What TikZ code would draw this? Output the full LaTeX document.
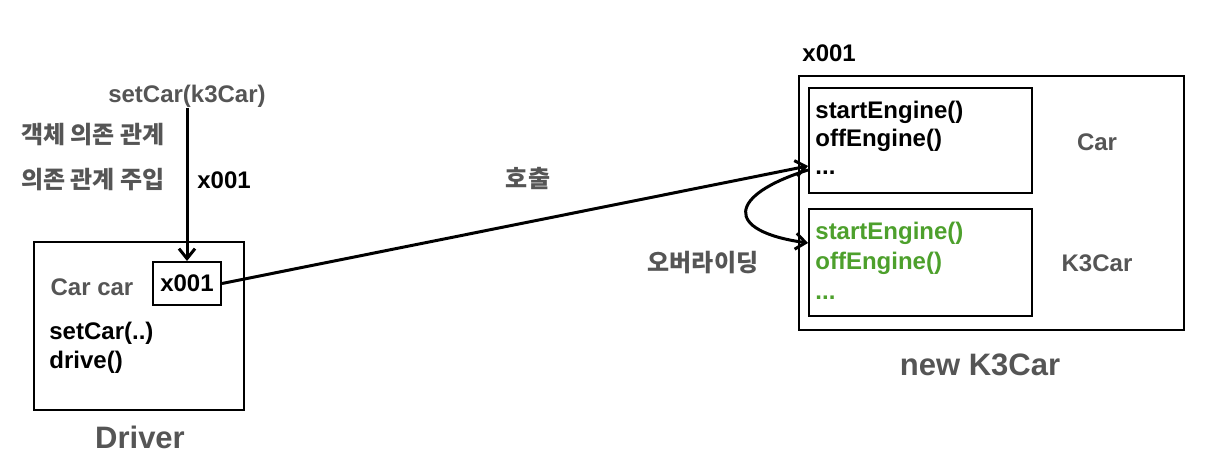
\documentclass[tikz,border=0pt]{standalone}
\usepackage{fontspec}
\setmainfont{Liberation Sans}
\newfontfamily\kofont{Noto Sans CJK KR}
\usetikzlibrary{arrows.meta, positioning}
\usepackage{xcolor}
\definecolor{txtgray}{HTML}{555555}
\definecolor{ovgreen}{HTML}{4DA02C}

\begin{document}
\begin{tikzpicture}[x=0.5pt, y=-0.5pt,
        box/.style={draw, line width=1pt, inner sep=0pt},
        code/.style={font=\bfseries\fontsize{12pt}{14pt}\selectfont, inner sep=0pt},
        lbl/.style={code, text=txtgray},
        title/.style={font=\bfseries\fontsize{15.5pt}{18pt}\selectfont, text=txtgray, inner sep=0pt},
        kor/.style={font=\kofont\bfseries\fontsize{12pt}{14pt}\selectfont, text=txtgray, inner sep=0pt},
        arr/.style={line width=1.5pt, -{Straight Barb[length=5pt,width=8pt,line width=1.5pt]}}]
        \useasboundingbox (0,0) rectangle (1214,466);

        % Driver
        \node[box, minimum width=105pt, minimum height=84pt] (driver) at (139,326) {};
        \node[box, minimum width=34pt, minimum height=21.5pt, code] (ref) at (187,283.5) {x001};
        \node[lbl] (field) at (92,287) {Car car};
        \node[code, anchor=west, align=left, font=\bfseries\fontsize{12pt}{14.5pt}\selectfont] (methods) at (49,348) {setCar(..)\\drive()};
        \node[title] (drivername) at (140,437) {Driver};

        % setter injection
        \node[lbl] (setter) at (187,96) {setCar(k3Car)};
        \node[kor] (dep) at (93,135) {객체 의존 관계};
        \node[kor] (inject) at (93,180) {의존 관계 주입};
        \node[code, anchor=west] (refval) at (197,180) {x001};
        \draw[arr] (setter.south) -- (ref.north);

        % new K3Car instance
        \node[box, minimum width=192.5pt, minimum height=127pt] (k3car) at (991.5,203) {};
        \node[code, anchor=west] (addr) at (802,53) {x001};
        \node[box, minimum width=111.5pt, minimum height=52.5pt] (carpart) at (920.5,140.5) {};
        \node[box, minimum width=111.5pt, minimum height=53.5pt] (k3part) at (920.5,262.5) {};
        \node[code, anchor=west, align=left] (carmethods) at (815,138) {startEngine()\\offEngine()\\...};
        \node[code, text=ovgreen, anchor=west, align=left, font=\bfseries\fontsize{12pt}{15pt}\selectfont] (k3methods) at (815,261) {startEngine()\\offEngine()\\...};
        \node[lbl] (carname) at (1097,142) {Car};
        \node[lbl] (k3name) at (1097,263) {K3Car};
        \node[title] (newname) at (980,365) {new K3Car};

        % calls
        \draw[arr] (ref.east) -- ([yshift=-12.75pt]carpart.west);
        \node[kor] (call) at (528,178) {호출};
        \draw[arr] ([yshift=-14.75pt]carpart.west) .. controls +(-80,25) and +(-85,-12) .. ([yshift=9.75pt]k3part.west);
        \node[kor] (override) at (703,263) {오버라이딩};
    \end{tikzpicture}
\end{document}
